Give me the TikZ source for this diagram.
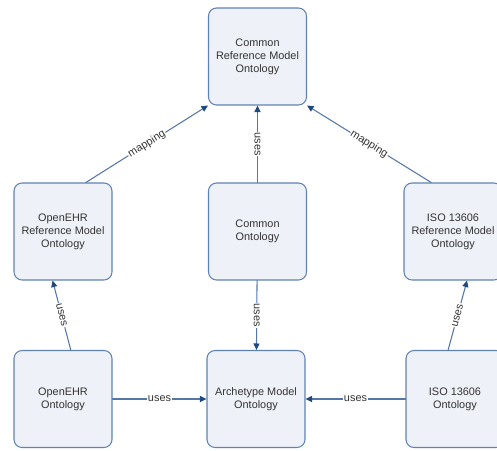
\documentclass[tikz,border=0pt]{standalone}
\usepackage{fontspec}
\setmainfont{Liberation Sans}
\usetikzlibrary{arrows.meta}

\definecolor{boxline}{HTML}{5F82B2}
\definecolor{boxfill}{HTML}{EEF1F7}
\definecolor{edgeline}{HTML}{5577A8}
\definecolor{tipcol}{HTML}{1F4A80}
\definecolor{txt}{HTML}{333333}

\begin{document}
\begin{tikzpicture}[
        x=0.02cm, y=-0.02cm,
        line cap=round,
        line join=round,
        onto/.style={draw=boxline, fill=boxfill, line width=0.6pt, rounded corners=0.16cm,
            minimum width=1.96cm, minimum height=1.94cm, inner sep=1pt,
            align=center, text=txt, font=\fontsize{6.2}{7.4}\selectfont},
        rel/.style={draw=edgeline, line width=0.6pt,
            -{Triangle[length=0.13cm, width=0.12cm, color=tipcol]}},
        lbl/.style={fill=white, inner sep=0.5pt, text=txt, font=\fontsize{6.2}{7.4}\selectfont}
    ]
        \clip (0,0) rectangle (497,450);
        \fill[white] (0,0) rectangle (497,450);

        % ontology boxes
        \node[onto] (cro) at (257.5,56.5) {Common\\Reference Model\\Ontology};
        \node[onto] (ehrrm) at (63,231.5) {OpenEHR\\Reference Model\\Ontology};
        \node[onto] (common) at (257.5,231.5) {Common\\Ontology};
        \node[onto] (isorm) at (453,231.5) {ISO 13606\\Reference Model\\Ontology};
        \node[onto] (ehr) at (63,399) {OpenEHR\\Ontology};
        \node[onto] (arch) at (256,399) {Archetype Model\\Ontology};
        \node[onto] (iso) at (455,399) {ISO 13606\\Ontology};

        % relations
        \draw[rel] (ehrrm.65) -- node[lbl, sloped] {mapping} (cro.south west);
        \draw[rel] (isorm.114) -- node[lbl, sloped] {mapping} (cro.south east);
        \draw[rel] (common) -- node[lbl, rotate=-90] {uses} (cro);
        \draw[rel] (common) -- node[lbl, rotate=-90] {uses} (arch);
        \draw[rel] (ehr.81) -- node[lbl, sloped] {uses} (ehrrm.-102);
        \draw[rel] (iso.98) -- node[lbl, sloped] {uses} (isorm.-74);
        \draw[rel] (ehr) -- node[lbl] {uses} (arch);
        \draw[rel] (iso) -- node[lbl] {uses} (arch);
    \end{tikzpicture}
\end{document}
